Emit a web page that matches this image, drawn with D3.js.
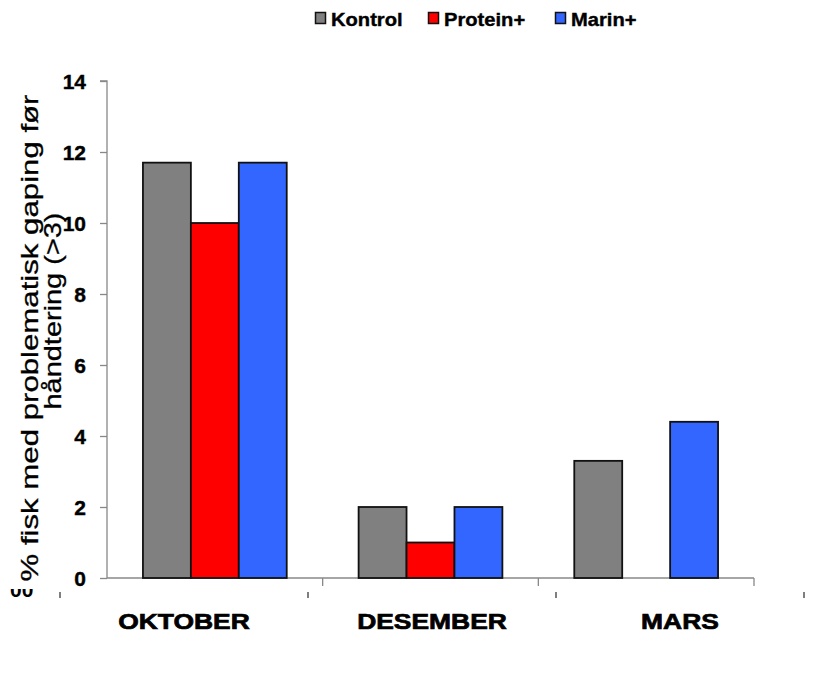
<!DOCTYPE html>
<html><head><meta charset="utf-8">
<script src="https://cdn.jsdelivr.net/npm/d3@7"></script>
<style>body{margin:0;background:#fff}svg{display:block}</style>
</head><body>
<svg id="c" width="817" height="673"></svg>
<script>
const categories = ["OKTOBER", "DESEMBER", "MARS"];
const seriesNames = ["Kontrol", "Protein+", "Marin+"];
const kontrol = [11.7, 2, 3.3];
const protein = [10, 1, 0];
const marin = [11.7, 2, 4.4];
const yTicks = [0, 2, 4, 6, 8, 10, 12, 14];
const yTitle = ["% fisk med problematisk gaping før", "håndtering (>3)"];
const colors = ["#808080", "#FF0000", "#3366FF"];

const values = [kontrol, protein, marin];
const svg = d3.select("#c");
const font = "'Liberation Sans', Arial, sans-serif";

const y = d3.scaleLinear().domain([0, 14]).range([578, 81]);
const x = d3.scaleBand().domain(categories).range([107, 754]).padding(0);
const xs = d3.scaleBand().domain(seriesNames).range([0, x.bandwidth()]).paddingInner(0).paddingOuter(0.75);
const xl = d3.scaleBand().domain(categories).range([60, 804]).padding(0);

function stretch(sel, f) {
  sel.each(function () {
    const w = this.getComputedTextLength();
    d3.select(this).attr("textLength", w * f).attr("lengthAdjust", "spacingAndGlyphs");
  });
}

// Y axis
const yAxis = svg.append("g").attr("transform", "translate(107,0)")
  .call(d3.axisLeft(y).tickValues(yTicks).tickSize(7).tickPadding(14).tickFormat(d3.format("d")));
yAxis.select(".domain").attr("stroke", "#888").attr("stroke-width", 1.3).attr("d", "M-7,81H0V578");
yAxis.selectAll(".tick line").attr("stroke", "#888").attr("stroke-width", 1.3);
yAxis.selectAll(".tick text").attr("font-family", font).attr("font-weight", "bold")
  .attr("font-size", 21).attr("fill", "#000").attr("stroke", "#000").attr("stroke-width", 0.4)
  .attr("dy", "0.37em");

// X axis baseline and ticks
svg.append("line").attr("x1", 107).attr("x2", 754).attr("y1", y(0)).attr("y2", y(0))
  .attr("stroke", "#888").attr("stroke-width", 1.3);
const xb = categories.map(c => x(c) + x.bandwidth());
svg.append("g").selectAll("line").data(xb).join("line")
  .attr("x1", d => d).attr("x2", d => d).attr("y1", y(0)).attr("y2", y(0) + 8)
  .attr("stroke", "#888").attr("stroke-width", 1.3);

// Bars
const gBars = svg.append("g");
categories.forEach((c, ci) => {
  seriesNames.forEach((s, si) => {
    const v = values[si][ci];
    gBars.append("rect")
      .attr("x", x(c) + xs(s)).attr("width", xs.bandwidth())
      .attr("y", y(v)).attr("height", y(0) - y(v))
      .attr("fill", colors[si])
      .attr("stroke", v > 0 ? "#111" : "none").attr("stroke-width", 1.8);
  });
});

// offset ticks (lower row) and category labels
const xlb = [xl(categories[0])].concat(categories.map(c => xl(c) + xl.bandwidth()));
svg.append("g").selectAll("line").data(xlb).join("line")
  .attr("x1", d => d).attr("x2", d => d).attr("y1", 592).attr("y2", 598)
  .attr("stroke", "#555").attr("stroke-width", 1.5);
const labs = svg.append("g").selectAll("text").data(categories).join("text")
  .attr("x", d => xl(d) + xl.bandwidth() / 2).attr("y", 629)
  .attr("text-anchor", "middle").attr("font-family", font).attr("font-weight", "bold")
  .attr("font-size", 22).attr("stroke", "#000").attr("stroke-width", 0.7).text(d => d);
stretch(labs, 1.2);

// clipped ghost text at lower left
svg.append("clipPath").attr("id", "gc").append("rect").attr("x", 0).attr("y", 589).attr("width", 50).attr("height", 20);
svg.append("text").attr("clip-path", "url(#gc)").attr("x", 10).attr("y", 597)
  .attr("font-family", font).attr("font-weight", "bold").attr("font-size", 21).text("00");

// Y title
svg.append("text").attr("transform", "translate(38,338) rotate(-90)")
  .attr("text-anchor", "middle").attr("font-family", font).attr("font-size", 24)
  .attr("stroke", "#000").attr("stroke-width", 0.3)
  .attr("textLength", 487).attr("lengthAdjust", "spacingAndGlyphs").text(yTitle[0]);
svg.append("text").attr("transform", "translate(61,311) rotate(-90)")
  .attr("text-anchor", "middle").attr("font-family", font).attr("font-size", 24)
  .attr("stroke", "#000").attr("stroke-width", 0.3)
  .attr("textLength", 197).attr("lengthAdjust", "spacingAndGlyphs").text(yTitle[1]);

// Legend
const legX = [315, 428, 555];
const leg = svg.append("g").selectAll("g").data(seriesNames).join("g")
  .attr("transform", (d, i) => `translate(${legX[i]},0)`);
leg.append("rect").attr("x", 0.5).attr("y", 12.5).attr("width", 10).attr("height", 11)
  .attr("fill", (d, i) => colors[i]).attr("stroke", "#111").attr("stroke-width", 1.5);
const lt = leg.append("text").attr("x", 16).attr("y", 25.5).attr("font-family", font)
  .attr("font-weight", "bold").attr("font-size", 19).attr("stroke", "#000").attr("stroke-width", 0.4)
  .text(d => d);
stretch(lt, 1.06);
</script>
</body></html>
